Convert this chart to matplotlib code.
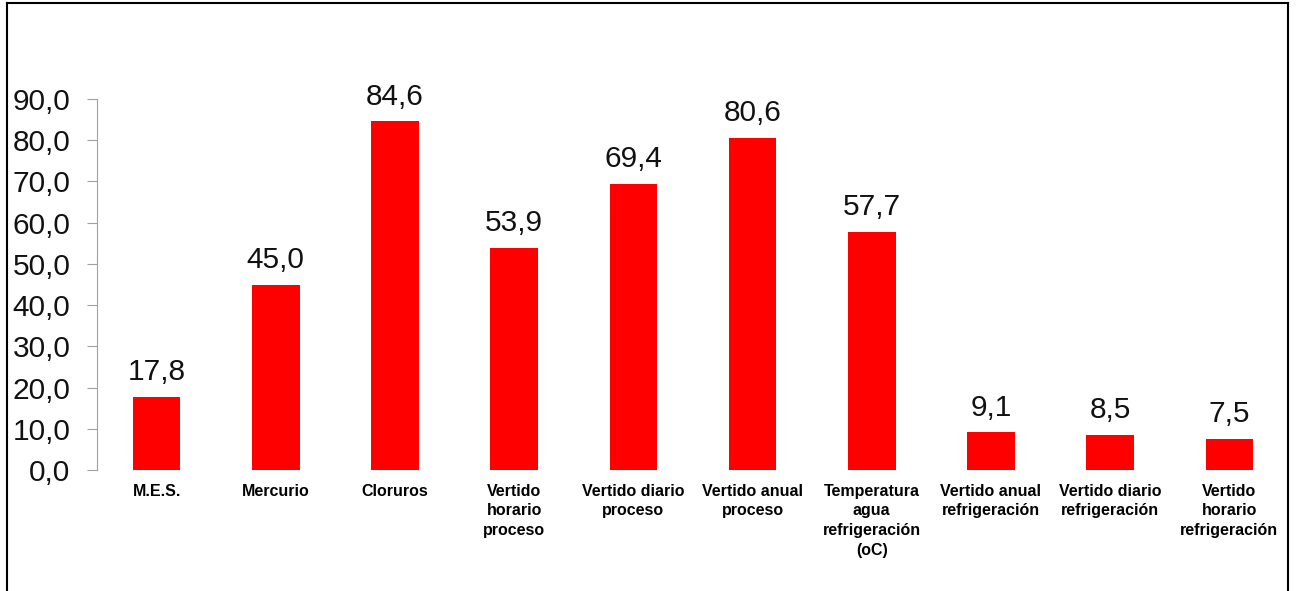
import matplotlib.pyplot as plt
from matplotlib.lines import Line2D

categories = ["M.E.S.", "Mercurio", "Cloruros", "Vertido\nhorario\nproceso",
              "Vertido diario\nproceso", "Vertido anual\nproceso",
              "Temperatura\nagua\nrefrigeración\n(oC)", "Vertido anual\nrefrigeración",
              "Vertido diario\nrefrigeración", "Vertido\nhorario\nrefrigeración"]
values = [17.8, 45.0, 84.6, 53.9, 69.4, 80.6, 57.7, 9.1, 8.5, 7.5]
yticks = [0, 10, 20, 30, 40, 50, 60, 70, 80, 90]

plt.rcParams['font.family'] = ['Liberation Sans', 'DejaVu Sans']

fig = plt.figure(figsize=(12.96, 5.91), dpi=100)
ax = fig.add_axes([97 / 1296, 1 - 470 / 591, (1289 - 97) / 1296, (470 - 99) / 591])

x = range(len(values))
bars = ax.bar(x, values, width=0.4, color="#ff0000")

for b, v in zip(bars, values):
    ax.text(b.get_x() + b.get_width() / 2, v + 2.6, f"{v:.1f}".replace(".", ","),
            ha="center", va="bottom", fontsize=21.5, color="#111111")

ax.set_xlim(-0.5, len(values) - 0.5)
ax.set_ylim(0, 90)
ax.set_yticks(yticks)
ax.set_yticklabels([f"{t:.1f}".replace(".", ",") for t in yticks], fontsize=21.5, color="#111111")
ax.set_xticks(list(x))
ax.set_xticklabels(categories, fontsize=11.5, fontweight="bold", linespacing=1.38)

for s in ["top", "right", "bottom"]:
    ax.spines[s].set_visible(False)
ax.spines["left"].set_color("#a0a0a0")
ax.tick_params(axis="y", length=7, color="#a0a0a0", pad=12)
ax.tick_params(axis="x", length=0, pad=10)

# outer frame
fig.add_artist(Line2D([7 / 1296, 7 / 1296], [0, 1 - 3 / 591], color="black", lw=1.5))
fig.add_artist(Line2D([7 / 1296, 1288 / 1296], [1 - 3 / 591, 1 - 3 / 591], color="black", lw=1.5))
fig.add_artist(Line2D([1288 / 1296, 1288 / 1296], [0, 1 - 3 / 591], color="black", lw=1.5))

fig.savefig("out.png", dpi=100)
